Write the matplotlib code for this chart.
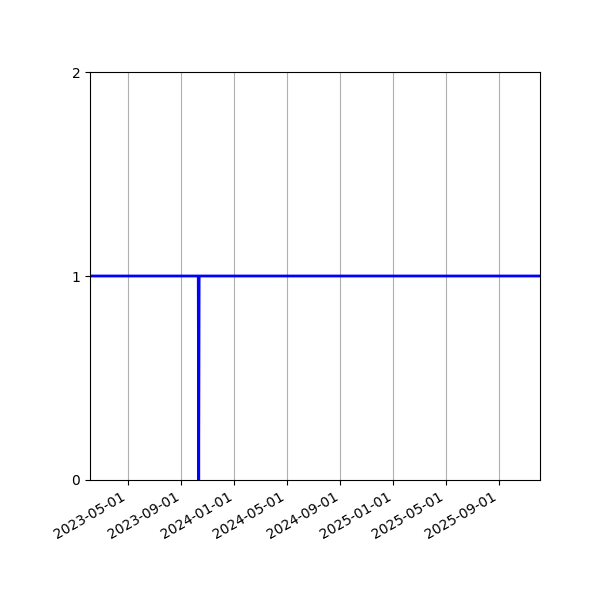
import pandas as pd
import matplotlib
matplotlib.use("Agg")
import matplotlib.pyplot as plt
import matplotlib.dates as mdates

# status series: up (1) everywhere except one day down (0)
dates = pd.to_datetime(["2023-02-03", "2023-10-10", "2023-10-11", "2023-10-12", "2025-12-04"])
status = [1, 1, 0, 1, 1]
y_ticks = [0, 1, 2]

fig, ax = plt.subplots(figsize=(6, 6), dpi=100)
fig.subplots_adjust(left=0.15, right=0.9, top=0.88, bottom=0.2)

ax.plot(dates, status, color="blue", linewidth=2)

ax.set_xlim(dates[0], dates[-1])
ax.set_ylim(0, 2)
ax.set_yticks(y_ticks)
ax.xaxis.set_major_locator(mdates.MonthLocator(bymonth=[1, 5, 9]))
ax.xaxis.set_major_formatter(mdates.DateFormatter("%Y-%m-%d"))
ax.grid(True, axis="x", color="#b0b0b0")
ax.set_axisbelow(True)

for label in ax.get_xticklabels():
    label.set_rotation(30)
    label.set_ha("right")

plt.savefig("out.png", dpi=100)
plt.close()
